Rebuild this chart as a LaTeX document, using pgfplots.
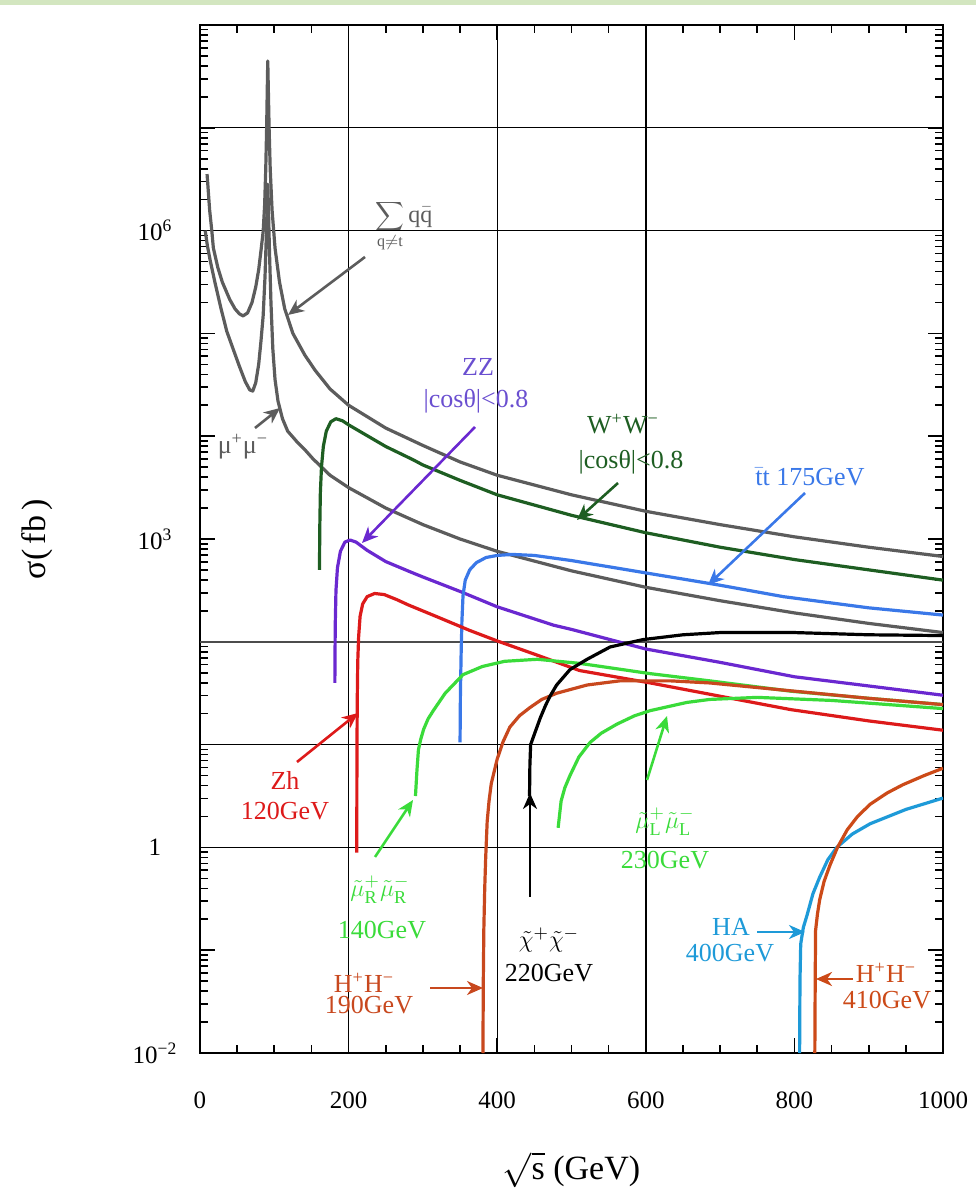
\documentclass[border=0pt]{standalone}
\usepackage{fontspec}
\setmainfont{Liberation Serif}
\usepackage{pgfplots}
\pgfplotsset{compat=1.18}
\usetikzlibrary{arrows.meta}
\definecolor{cgray}{HTML}{5C5C5C}
\definecolor{cww}{HTML}{1E5E22}
\definecolor{czz}{HTML}{6A28D0}
\definecolor{czzt}{HTML}{6A4FD0}
\definecolor{ctt}{HTML}{3A78E8}
\definecolor{czh}{HTML}{DD1A1A}
\definecolor{csmu}{HTML}{3ADB3A}
\definecolor{chh}{HTML}{C8481E}
\definecolor{cha}{HTML}{1E9AD8}
\definecolor{chh2}{HTML}{CC4A18}
\definecolor{band}{HTML}{D3E6C0}
\begin{document}
\begin{tikzpicture}
\useasboundingbox (-100pt,-73pt) rectangle (388pt,526.5pt);
\fill[band] (-100pt,524pt) rectangle (388pt,526.5pt);
\begin{axis}[
  at={(0pt,0pt)}, anchor=south west,
  scale only axis, width=371.5pt, height=514pt,
  xmin=0, xmax=1000, ymin=1e-2, ymax=1e8, ymode=log,
  xtick={0,200,400,600,800,1000},
  xticklabels={0,200,400,600,800,1000},
  minor x tick num=3,
  ytick={1e-2,1e-1,1,10,100,1e3,1e4,1e5,1e6,1e7,1e8},
  yticklabels={10\textsuperscript{−2},,1,,,10\textsuperscript{3},,,10\textsuperscript{6},,},
  minor ytick={2e-2,3e-2,4e-2,5e-2,6e-2,7e-2,8e-2,9e-2,
    2e-1,3e-1,4e-1,5e-1,6e-1,7e-1,8e-1,9e-1,
    2,3,4,5,6,7,8,9,20,30,40,50,60,70,80,90,
    200,300,400,500,600,700,800,900,
    2e3,3e3,4e3,5e3,6e3,7e3,8e3,9e3,
    2e4,3e4,4e4,5e4,6e4,7e4,8e4,9e4,
    2e5,3e5,4e5,5e5,6e5,7e5,8e5,9e5,
    2e6,3e6,4e6,5e6,6e6,7e6,8e6,9e6,
    2e7,3e7,4e7,5e7,6e7,7e7,8e7,9e7},
  tick align=inside,
  major tick length=7.5pt, minor tick length=4pt,
  every tick/.style={black, line width=0.8pt},
  axis line style={line width=1.2pt},
  /pgf/number format/assume math mode=true,
  tick label style={font=\fontsize{12.5}{14}\selectfont},
  xticklabel style={anchor=center, yshift=-23.5pt},
  yticklabel style={anchor=center, xshift=-22.5pt},
  xlabel={$\sqrt{\mathrm{s}}$ (GeV)},
  ylabel={σ(\,fb\,)},
  xlabel style={at={(axis description cs:0.5,-0.1138)}, anchor=center, font=\fontsize{17}{20}\selectfont},
  ylabel style={at={(axis description cs:-0.2194,0.5)}, anchor=center, font=\fontsize{17}{20}\selectfont},
  every axis plot/.append style={line width=1.6pt, no markers, line join=round},
]
% reference lines
\draw[black, line width=0.7pt] (axis cs:200,1e-2) -- (axis cs:200,1e8);
\draw[black, line width=0.7pt] (axis cs:400,1e-2) -- (axis cs:400,1e8);
\draw[black, line width=0.7pt] (axis cs:600,1e-2) -- (axis cs:600,1e8);
\draw[black, line width=0.7pt] (axis cs:0,1) -- (axis cs:1000,1);
\draw[black, line width=0.7pt] (axis cs:0,10) -- (axis cs:1000,10);
\draw[black, line width=0.7pt] (axis cs:0,1e6) -- (axis cs:1000,1e6);
\draw[black, line width=0.7pt] (axis cs:0,1e7) -- (axis cs:1000,1e7);
\draw[black!70, line width=1.2pt] (axis cs:0,100) -- (axis cs:1000,100);

% sum q qbar
\addplot[cgray] coordinates {(9.5,3.55e6) (13,1.58e6) (16,9.77e5) (18,6.76e5) (24,4.37e5) (30,3.16e5) (40,2.14e5) (47,1.74e5) (53,1.55e5) (58,1.48e5) (64,1.58e5) (70,2.0e5) (75,2.82e5) (79,4.17e5) (82,6.31e5) (85,9.77e5) (87,1.78e6) (88.5,3.98e6) (89.7,1.0e7) (90.6,2.51e7) (91.2,4.47e7) (91.9,2.51e7) (93,1.0e7) (94.5,3.98e6) (97,1.58e6) (101,6.76e5) (107,3.16e5) (114,1.74e5) (125,1.0e5) (141,6.17e4) (155,4.37e4) (175,2.88e4) (200,2.0e4) (250,1.20e4) (300,8.13e3) (350,5.62e3) (400,4.17e3) (500,2.69e3) (600,1.86e3) (700,1.38e3) (800,1.05e3) (900,8.32e2) (1000,6.76e2)};
% mu mu
\addplot[cgray] coordinates {(7,1.0e6) (10,7.08e5) (14,5.01e5) (20,3.16e5) (28,1.78e5) (36,1.05e5) (45,6.92e4) (53,4.79e4) (61,3.39e4) (67,2.82e4) (71,2.75e4) (75,3.31e4) (79,5.01e4) (82,8.32e4) (85,1.48e5) (87.5,3.55e5) (89.5,1.0e6) (90.6,2.0e6) (91.2,2.82e6) (92,1.78e6) (93.5,6.31e5) (95.5,2.0e5) (98,7.08e4) (101,3.55e4) (105,2.19e4) (111,1.48e4) (118,1.12e4) (130,8.91e3) (141,7.41e3) (152,6.03e3) (175,4.17e3) (200,3.16e3) (250,2.0e3) (300,1.38e3) (350,1.0e3) (400,7.59e2) (500,4.90e2) (600,3.39e2) (700,2.51e2) (800,1.91e2) (900,1.51e2) (1000,1.23e2)};
% WW
\addplot[cww] coordinates {(160.8,5.01e2) (161.2,1.26e3) (162,2.82e3) (163.5,5.01e3) (166,7.94e3) (170,1.12e4) (176,1.38e4) (183,1.48e4) (192,1.41e4) (200,1.29e4) (250,7.94e3) (287,5.89e3) (300,5.25e3) (350,3.72e3) (400,2.69e3) (500,1.70e3) (600,1.15e3) (700,8.32e2) (800,6.31e2) (900,5.01e2) (1000,3.98e2)};
% ZZ
\addplot[czz] coordinates {(181.5,39.8) (182,141) (183,316) (185,525) (189,759) (195,933) (202,977) (210,933) (225,776) (250,603) (283,479) (300,427) (350,309) (400,219) (476,145) (500,132) (600,85.1) (700,63.1) (800,45.7) (900,37.2) (1000,30.2)};
% ttbar
\addplot[ctt] coordinates {(350,10.5) (350.5,31.6) (351.5,79.4) (352.5,158) (354,282) (357,398) (363,501) (372,589) (385,661) (400,692) (420,708) (450,692) (500,617) (600,468) (700,355) (785,275) (900,214) (1000,182)};
% Zh
\addplot[czh] coordinates {(211,0.891) (211.2,6.31) (211.6,25.1) (212.3,63.1) (213.5,112) (215.5,178) (219,234) (225,275) (235,295) (248,288) (265,257) (280,229) (320,174) (363,129) (400,102) (454,74.1) (511,52.5) (606,39.8) (686,30.9) (795,21.9) (900,17.0) (1000,13.8)};
% smuon R
\addplot[csmu] coordinates {(290,3.16) (292,5.62) (294,8.91) (297,11.2) (301,14.1) (307,17.8) (314,21.4) (330,31.6) (354,47.9) (380,57.5) (410,64.6) (454,67.6) (511,61.7) (606,49.0) (686,41.7) (795,33.1) (900,28.2) (1000,24.5)};
% smuon L
\addplot[csmu] coordinates {(482,1.55) (486,2.82) (491,3.80) (498,5.01) (510,7.59) (525,10.5) (540,12.9) (561,15.8) (585,19.1) (606,21.4) (655,25.7) (686,27.5) (750,28.8) (850,26.9) (1000,22.4)};
% H+H- 190
\addplot[chh] coordinates {(380.8,0.01) (381.3,0.0501) (382,0.158) (383.2,0.398) (384.5,0.794) (386.5,1.78) (389,2.82) (392,4.17) (400,7.24) (408,10.7) (417,14.8) (430,19.1) (444,22.9) (460,27.5) (480,31.6) (521,38.0) (565,41.7) (633,41.7) (686,39.8) (800,33.1) (900,28.2) (1000,24.5)};
% chargino
\addplot[black] coordinates {(443.5,3.16) (444,6.31) (445,10) (450,12.6) (458,18.2) (465,24.0) (471,29.5) (480,38.0) (498,53.7) (521,67.6) (552,89.1) (596,105) (650,117) (700,123) (800,123) (900,117) (1000,115)};
% HA
\addplot[cha] coordinates {(807,0.01) (807.5,0.0501) (808.5,0.115) (812,0.166) (817,0.219) (825,0.355) (834,0.513) (845,0.759) (857,1.0) (878,1.35) (902,1.70) (950,2.34) (1000,3.02)};
% H+H- 410
\addplot[chh2] coordinates {(827.5,0.01) (828,0.0501) (828.5,0.155) (831,0.224) (834,0.309) (840,0.468) (848,0.676) (858,1.0) (871,1.48) (885,2.0) (902,2.63) (925,3.39) (946,4.07) (975,5.01) (1000,5.89)};
\end{axis}

\begin{scope}[x=0.5pt,y=-0.5pt,shift={(-100pt,526.5pt)},
  every node/.style={font=\fontsize{13}{15}\selectfont, inner sep=0pt},
  ann/.style={line width=1.3pt, -{Stealth[length=8pt,width=7pt,inset=2.5pt]}}]
\node[text=cgray, font=\fontsize{12}{14}\selectfont] at (404,226) {$\displaystyle\sum_{\mathrm{q}\neq\mathrm{t}}\mathrm{q}\bar{\mathrm{q}}$};
\draw[ann, cgray] (365,257) -- (288,315);
\node[text=cgray] at (243,447) {μ\textsuperscript{+}μ\textsuperscript{−}};
\draw[ann, cgray] (255,428) -- (280,408);
\node[text=czzt] at (478,367) {ZZ};
\node[text=czzt] at (476,401) {|cosθ|<0.8};
\draw[ann, czz] (475,427) -- (362,543);
\node[text=cww] at (623,424) {W\textsuperscript{+}W\textsuperscript{−}};
\node[text=cww] at (631,462) {|cosθ|<0.8};
\draw[ann, cww] (618,483) -- (577,520);
\node[text=ctt] at (810,477) {$\bar{\mathrm{t}}$t 175GeV};
\draw[ann, ctt] (805,493) -- (708,585);
\node[text=czh] at (285,780) {Zh};
\node[text=czh] at (285,811) {120GeV};
\draw[ann, czh] (297,762) -- (358,713);
\node[text=csmu] at (380,890) {$\tilde{\mu}^{+}_{\mathrm{R}}\tilde{\mu}^{-}_{\mathrm{R}}$};
\node[text=csmu] at (382,930) {140GeV};
\draw[ann, csmu] (375,857) -- (413,800);
\node[text=chh] at (364,983) {H\textsuperscript{+}H\textsuperscript{−}};
\node[text=chh] at (369,1005) {190GeV};
\draw[ann, chh] (430,988) -- (483,988);
\node[text=black] at (549,940) {$\tilde{\chi}^{+}\tilde{\chi}^{-}$};
\node[text=black] at (549,973) {220GeV};
\draw[ann, black] (530,897) -- (530,793);
\node[text=csmu] at (665,822) {$\tilde{\mu}^{+}_{\mathrm{L}}\tilde{\mu}^{-}_{\mathrm{L}}$};
\node[text=csmu] at (665,860) {230GeV};
\draw[ann, csmu] (647,780) -- (667,716);
\node[text=cha] at (731,927) {HA};
\node[text=cha] at (730,953) {400GeV};
\draw[ann, cha] (757,932) -- (805,932);
\node[text=chh2] at (886,973) {H\textsuperscript{+}H\textsuperscript{−}};
\node[text=chh2] at (887,1000) {410GeV};
\draw[ann, chh2] (853,979) -- (816,979);
\end{scope}
\end{tikzpicture}
\end{document}
